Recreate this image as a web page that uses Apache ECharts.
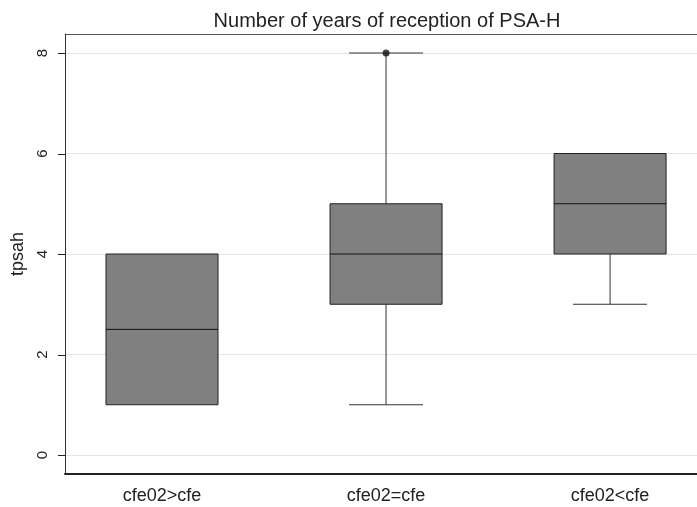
<!DOCTYPE html>
<html>
<head>
<meta charset="utf-8">
<script src="https://cdn.jsdelivr.net/npm/echarts@6/dist/echarts.min.js"></script>
<style>html,body{margin:0;padding:0;background:#fff}#c{width:697px;height:507px}</style>
</head>
<body>
<div id="c"></div>
<script>
var categories = ['cfe02>cfe', 'cfe02=cfe', 'cfe02<cfe'];
var lowerWhisker = [1, 1, 3];
var q1 = [1, 3, 4];
var median = [2.5, 4, 5];
var q3 = [4, 5, 6];
var upperWhisker = [4, 8, 6];
var outliers = [[2, 8]];
var xTicks = [1, 2, 3];
var yTicks = [0, 2, 4, 6, 8];

var boxData = categories.map(function (c, i) {
  return [i + 1, lowerWhisker[i], q1[i], median[i], q3[i], upperWhisker[i]];
});

var FONT = 'Liberation Sans, Arial, sans-serif';
var XMIN = 0.567, XMAX = 3.388;
var chart = echarts.init(document.getElementById('c'));
chart.setOption({
  animation: false,
  title: {
    text: 'Number of years of reception of PSA-H',
    left: 382, top: 6, textAlign: 'center',
    textStyle: { fontFamily: FONT, fontSize: 20, fontWeight: 'normal', color: '#222' }
  },
  grid: [
    { left: 65, right: 0, top: 34, bottom: 33, containLabel: false },
    { left: 65, right: 0, top: 53, bottom: 52, containLabel: false }
  ],
  xAxis: [{
    gridIndex: 0, type: 'value', min: XMIN, max: XMAX, position: 'bottom',
    axisLine: { show: true, onZero: false, lineStyle: { color: '#222', width: 2 } },
    axisTick: { show: false },
    splitLine: { show: false },
    axisLabel: {
      customValues: xTicks, margin: 13,
      fontFamily: FONT, fontSize: 18, color: '#222',
      formatter: function (v) { return categories[Math.round(v) - 1] || ''; }
    }
  }, {
    gridIndex: 0, type: 'value', min: XMIN, max: XMAX, position: 'top',
    axisLine: { show: true, onZero: false, lineStyle: { color: '#555', width: 1 } },
    axisTick: { show: false }, axisLabel: { show: false }, splitLine: { show: false }
  }, {
    gridIndex: 1, type: 'value', min: XMIN, max: XMAX, show: false,
    splitLine: { show: false }
  }],
  yAxis: [{
    gridIndex: 0, type: 'value', min: 0, max: 1,
    axisLine: { show: true, onZero: false, lineStyle: { color: '#333', width: 1 } },
    axisTick: { show: false }, axisLabel: { show: false }, splitLine: { show: false }
  }, {
    gridIndex: 1, type: 'value', min: 0, max: 8, interval: 2,
    name: 'tpsah', nameLocation: 'middle', nameRotate: 90, nameGap: 32,
    nameTextStyle: { fontFamily: FONT, fontSize: 18, color: '#222' },
    axisLine: { show: false },
    axisTick: { show: false },
    splitLine: { show: true, lineStyle: { color: '#e6e6e6', width: 1 } },
    axisLabel: {
      rotate: 90, margin: 15,
      fontFamily: FONT, fontSize: 15, color: '#222'
    }
  }],
  series: [{
    type: 'custom',
    xAxisIndex: 2, yAxisIndex: 1,
    data: boxData,
    z: 3,
    renderItem: function (params, api) {
      var x = api.value(0);
      var half = api.size([0.5, 0])[0] / 2;
      var capHalf = api.size([0.33, 0])[0] / 2;
      var pLw = api.coord([x, api.value(1)]);
      var pQ1 = api.coord([x, api.value(2)]);
      var pMed = api.coord([x, api.value(3)]);
      var pQ3 = api.coord([x, api.value(4)]);
      var pUw = api.coord([x, api.value(5)]);
      var cx = pMed[0];
      var line = { stroke: '#333', lineWidth: 1 };
      var children = [];
      if (api.value(5) > api.value(4)) {
        children.push({ type: 'line', shape: { x1: cx, y1: pQ3[1], x2: cx, y2: pUw[1] }, style: line });
        children.push({ type: 'line', shape: { x1: cx - capHalf, y1: pUw[1], x2: cx + capHalf, y2: pUw[1] }, style: line });
      }
      if (api.value(1) < api.value(2)) {
        children.push({ type: 'line', shape: { x1: cx, y1: pQ1[1], x2: cx, y2: pLw[1] }, style: line });
        children.push({ type: 'line', shape: { x1: cx - capHalf, y1: pLw[1], x2: cx + capHalf, y2: pLw[1] }, style: line });
      }
      children.push({ type: 'rect', shape: { x: cx - half, y: pQ3[1], width: half * 2, height: pQ1[1] - pQ3[1] },
        style: { fill: '#808080', stroke: '#222', lineWidth: 1 } });
      children.push({ type: 'line', shape: { x1: cx - half, y1: pMed[1], x2: cx + half, y2: pMed[1] }, style: { stroke: '#111', lineWidth: 1 } });
      return { type: 'group', children: children };
    }
  }, {
    // y-axis tick marks drawn just outside the plot, placed by the y scale
    type: 'custom',
    xAxisIndex: 2, yAxisIndex: 1,
    clip: false,
    silent: true,
    data: yTicks.map(function (v) { return [XMIN, v]; }),
    z: 10,
    renderItem: function (params, api) {
      var p = api.coord([api.value(0), api.value(1)]);
      var y = Math.round(p[1]) + 0.5;
      return {
        type: 'rect',
        shape: { x: p[0] - 7, y: y - 0.5, width: 7, height: 1 },
        style: { fill: '#222' }
      };
    }
  }, {
    type: 'scatter',
    xAxisIndex: 2, yAxisIndex: 1,
    data: outliers,
    symbol: 'circle', symbolSize: 7,
    itemStyle: { color: '#111' },
    z: 5
  }]
});
</script>
</body>
</html>
